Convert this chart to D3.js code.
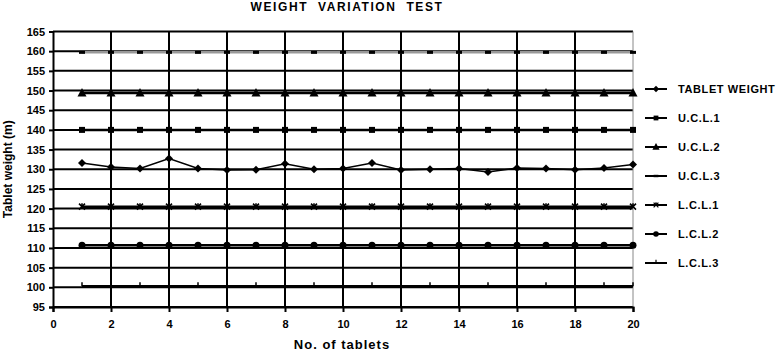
<!DOCTYPE html>
<html>
<head>
<meta charset="utf-8">
<script src="https://cdn.jsdelivr.net/npm/d3@7"></script>
<style>
  body { margin: 0; background: #fff; }
  text { font-family: Arial, "Liberation Sans", sans-serif; font-weight: bold; fill: #000; }
</style>
</head>
<body>
<div id="chart"></div>
<script>
// tablets 1..20
var tablets = d3.range(1, 21);
var tabletWeight = [131.6, 130.6, 130.2, 132.7, 130.2, 129.8, 129.9, 131.4, 130.0, 130.2,
                    131.6, 129.8, 130.0, 130.2, 129.3, 130.3, 130.2, 129.9, 130.3, 131.2];
var ucl1 = 140.0, ucl2 = 149.4, ucl3 = 159.7;
var lcl1 = 120.5, lcl2 = 110.7, lcl3 = 100.3;
var xTicks = d3.range(0, 21, 2);
var yTicks = d3.range(95, 166, 5);

var series = [
  {name: "TABLET WEIGHT", values: tabletWeight, marker: "diamond"},
  {name: "U.C.L.1", values: tablets.map(function() { return ucl1; }), marker: "square"},
  {name: "U.C.L.2", values: tablets.map(function() { return ucl2; }), marker: "triangle"},
  {name: "U.C.L.3", values: tablets.map(function() { return ucl3; }), marker: "dash"},
  {name: "L.C.L.1", values: tablets.map(function() { return lcl1; }), marker: "star"},
  {name: "L.C.L.2", values: tablets.map(function() { return lcl2; }), marker: "circle"},
  {name: "L.C.L.3", values: tablets.map(function() { return lcl3; }), marker: "plus"}
];

var W = 780, H = 353;
var x = d3.scaleLinear().domain([0, 20]).range([53, 633]);
var y = d3.scaleLinear().domain([95, 165]).range([307, 31.5]);

var svg = d3.select("#chart").append("svg")
  .attr("width", W).attr("height", H);

// grid
svg.append("g").selectAll("line").data(yTicks).enter().append("line")
  .attr("x1", x(0)).attr("x2", x(20))
  .attr("y1", function(d) { return y(d); }).attr("y2", function(d) { return y(d); })
  .attr("stroke", "#000").attr("stroke-width", 2);

svg.append("g").selectAll("line").data(xTicks.filter(function(d) { return d > 0; })).enter().append("line")
  .attr("x1", function(d) { return x(d); }).attr("x2", function(d) { return x(d); })
  .attr("y1", y(165)).attr("y2", y(95))
  .attr("stroke", function(d) { return d == 20 ? "#888" : "#000"; })
  .attr("stroke-width", function(d) { return d == 20 ? 1 : 2; });

// axes
var xAxis = svg.append("g").attr("transform", "translate(0," + y(95) + ")")
  .call(d3.axisBottom(x).tickValues(xTicks).tickSize(5).tickPadding(8));
var yAxis = svg.append("g").attr("transform", "translate(" + x(0) + ",0)")
  .call(d3.axisLeft(y).tickValues(yTicks).tickSize(4).tickPadding(4));
[xAxis, yAxis].forEach(function(a) {
  a.select(".domain").attr("stroke", "#000").attr("stroke-width", 2);
  a.selectAll(".tick line").attr("stroke", "#000").attr("stroke-width", 2);
  a.selectAll("text").style("font-size", "11px").style("font-family", "Arial, 'Liberation Sans', sans-serif")
    .style("font-weight", "bold").attr("fill", "#000");
});

// marker drawing
function drawMarker(g, type) {
  if (type == "diamond") {
    g.append("path").attr("d", "M0,-4L4,0L0,4L-4,0Z").attr("fill", "#000");
  } else if (type == "square") {
    g.append("rect").attr("x", -3).attr("y", -3).attr("width", 6).attr("height", 6).attr("fill", "#000");
  } else if (type == "triangle") {
    g.append("path").attr("d", "M0,-5L4.5,3.5L-4.5,3.5Z").attr("fill", "#000");
  } else if (type == "dash") {
    g.append("rect").attr("x", -3).attr("y", -1.5).attr("width", 6).attr("height", 3).attr("fill", "#000");
  } else if (type == "star") {
    g.append("path").attr("d", "M-3,-3L3,3M3,-3L-3,3M0,-3.5L0,0").attr("stroke", "#000").attr("stroke-width", 1.5);
  } else if (type == "circle") {
    g.append("circle").attr("r", 3.5).attr("fill", "#000");
  } else if (type == "plus") {
    g.append("path").attr("d", "M0,-4L0,0").attr("stroke", "#000").attr("stroke-width", 1.5);
  }
}

var line = d3.line()
  .x(function(d, i) { return x(tablets[i]); })
  .y(function(d) { return y(d); });

series.slice().reverse().forEach(function(s) {
  var g = svg.append("g");
  g.append("path").attr("d", line(s.values))
    .attr("fill", "none")
    .attr("stroke", s.marker == "dash" ? "#999" : "#000")
    .attr("stroke-width", s.marker == "diamond" ? 1.5 : 2.5);
  s.values.forEach(function(v, i) {
    drawMarker(g.append("g").attr("transform", "translate(" + x(tablets[i]) + "," + y(v) + ")"), s.marker);
  });
});

// legend
var legend = svg.append("g");
series.forEach(function(s, i) {
  var ly = 89 + i * 29;
  var lg = legend.append("g").attr("transform", "translate(0," + ly + ")");
  lg.append("line").attr("x1", 645).attr("x2", 667).attr("y1", 0).attr("y2", 0)
    .attr("stroke", "#000").attr("stroke-width", 2);
  drawMarker(lg.append("g").attr("transform", "translate(656,0) scale(0.8)"), s.marker);
  lg.append("text").attr("x", 678).attr("y", 4).style("font-size", "11px")
    .style("letter-spacing", "0.6px").text(s.name);
});

// titles
svg.append("text").attr("x", 347).attr("y", 11).attr("text-anchor", "middle")
  .attr("xml:space", "preserve")
  .style("font-size", "12px").style("letter-spacing", "1.6px").text("WEIGHT  VARIATION  TEST");
svg.append("text").attr("x", 342).attr("y", 349).attr("text-anchor", "middle")
  .style("font-size", "13px").style("letter-spacing", "1px").text("No. of tablets");
svg.append("text").attr("transform", "translate(12," + y(130) + ") rotate(-90)")
  .attr("text-anchor", "middle").style("font-size", "12px").text("Tablet weight (m)");
</script>
</body>
</html>
